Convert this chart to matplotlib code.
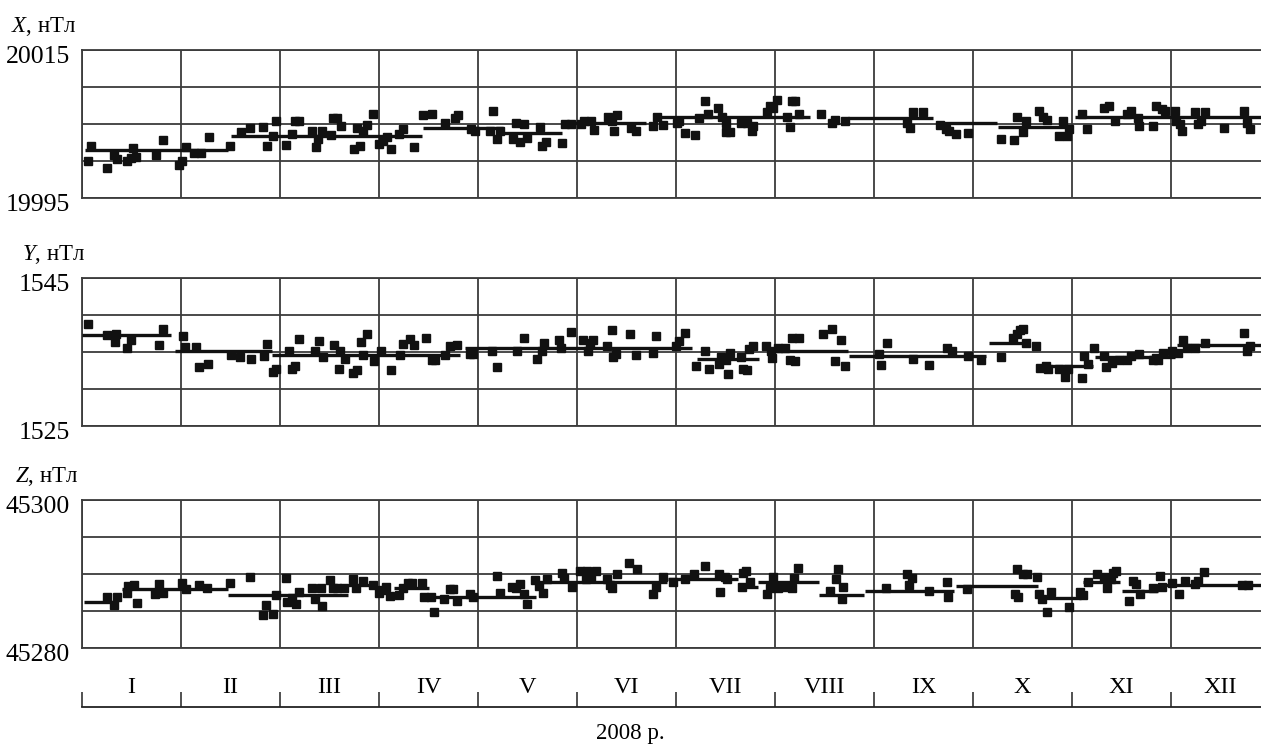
import matplotlib
matplotlib.use("Agg")
import matplotlib.pyplot as plt
import matplotlib.transforms as mtransforms

plt.rcParams['font.family'] = ['Liberation Serif', 'DejaVu Serif']
plt.rcParams['mathtext.fontset'] = 'custom'
plt.rcParams['mathtext.it'] = 'Liberation Serif:italic'
plt.rcParams['mathtext.rm'] = 'Liberation Serif'

months = ['I', 'II', 'III', 'IV', 'V', 'VI', 'VII', 'VIII', 'IX', 'X', 'XI', 'XII']
year_label = '2008 р.'

# ---- X component (time in months from 1 Jan) ----
x_t = [0.06, 0.09, 0.25, 0.32, 0.35, 0.45, 0.49, 0.52, 0.55, 0.75,
       0.82, 0.98, 1.01, 1.05, 1.13, 1.20, 1.28, 1.49, 1.61, 1.70,
       1.83, 1.87, 1.93, 1.96, 2.06, 2.12, 2.15, 2.19, 2.32, 2.36,
       2.38, 2.42, 2.52, 2.54, 2.58, 2.62, 2.75, 2.78, 2.81, 2.84,
       2.88, 2.94, 3.00, 3.04, 3.08, 3.12, 3.20, 3.24, 3.35, 3.44,
       3.54, 3.67, 3.77, 3.80, 3.93, 3.97, 4.12, 4.15, 4.19, 4.22,
       4.35, 4.38, 4.42, 4.46, 4.49, 4.63, 4.65, 4.69, 4.85, 4.88,
       4.94, 5.04, 5.07, 5.14, 5.17, 5.31, 5.35, 5.37, 5.40, 5.55,
       5.60, 5.77, 5.81, 5.87, 6.01, 6.03, 6.09, 6.19, 6.23, 6.29,
       6.32, 6.42, 6.46, 6.50, 6.51, 6.55, 6.66, 6.72, 6.77, 6.78,
       6.92, 6.95, 6.98, 7.02, 7.12, 7.15, 7.17, 7.20, 7.24, 7.46,
       7.58, 7.61, 7.71, 8.33, 8.36, 8.39, 8.49, 8.67, 8.73, 8.76,
       8.83, 8.95, 9.28, 9.41, 9.44, 9.50, 9.54, 9.67, 9.71, 9.75,
       9.87, 9.91, 9.95, 9.97, 10.10, 10.15, 10.32, 10.37, 10.43, 10.56,
       10.60, 10.67, 10.68, 10.82, 10.85, 10.91, 10.94, 11.04, 11.05, 11.09,
       11.11, 11.24, 11.27, 11.30, 11.34, 11.54, 11.74, 11.77, 11.80]
x_v = [20000.0, 20002.0, 19999.0, 20000.8, 20000.3, 20000.0, 20000.4, 20001.7, 20000.6, 20000.8,
       20002.8, 19999.5, 20000.0, 20001.9, 20001.1, 20001.1, 20003.2, 20002.0, 20003.9, 20004.4,
       20004.6, 20002.0, 20003.4, 20005.4, 20002.1, 20003.6, 20005.4, 20005.4, 20004.0, 20001.9,
       20003.0, 20004.0, 20003.5, 20005.8, 20005.8, 20004.7, 20001.6, 20004.4, 20002.0, 20004.0,
       20004.8, 20006.3, 20002.3, 20002.7, 20003.2, 20001.6, 20003.6, 20004.3, 20001.9, 20006.2,
       20006.3, 20005.2, 20005.8, 20006.2, 20004.3, 20004.1, 20004.0, 20006.8, 20003.0, 20004.0,
       20003.0, 20005.2, 20002.6, 20005.0, 20003.1, 20004.6, 20002.0, 20002.6, 20002.4, 20005.0,
       20005.0, 20005.0, 20005.4, 20005.4, 20004.2, 20006.0, 20005.4, 20004.0, 20006.2, 20004.4,
       20004.0, 20004.7, 20005.9, 20004.8, 20005.1, 20005.4, 20003.8, 20003.5, 20005.8, 20008.1,
       20006.4, 20007.2, 20006.0, 20005.2, 20003.9, 20003.9, 20005.1, 20005.2, 20004.0, 20004.7,
       20006.6, 20007.4, 20007.2, 20008.2, 20005.9, 20004.6, 20008.1, 20008.1, 20006.3, 20006.3,
       20005.2, 20005.6, 20005.4, 20005.2, 20004.4, 20006.6, 20006.6, 20004.8, 20004.3, 20004.0,
       20003.6, 20003.8, 20003.0, 20002.8, 20006.0, 20003.9, 20005.4, 20006.7, 20005.9, 20005.5,
       20003.4, 20005.4, 20003.4, 20004.3, 20006.4, 20004.3, 20007.1, 20007.4, 20005.4, 20006.3,
       20006.8, 20005.8, 20004.7, 20004.7, 20007.4, 20007.0, 20006.7, 20006.7, 20005.4, 20005.0,
       20004.0, 20006.6, 20005.0, 20005.4, 20006.6, 20004.4, 20006.8, 20005.1, 20004.3]
x_seg_start = [0.03, 1.50, 3.44, 4.25, 4.87, 5.80, 7.74, 8.64, 9.25, 10.03]
x_seg_end = [1.47, 3.43, 4.25, 4.85, 5.70, 7.35, 8.60, 9.24, 9.96, 11.95]
x_seg_val = [20001.5, 20003.4, 20004.4, 20003.8, 20005.1, 20005.9, 20005.8, 20005.1, 20004.6, 20005.9]

# ---- Y component ----
y_t = [0.06, 0.25, 0.33, 0.34, 0.45, 0.49, 0.78, 0.82, 1.02, 1.04,
       1.15, 1.18, 1.27, 1.50, 1.60, 1.71, 1.84, 1.87, 1.93, 1.96,
       2.09, 2.12, 2.15, 2.19, 2.35, 2.39, 2.43, 2.55, 2.60, 2.61,
       2.66, 2.74, 2.78, 2.82, 2.84, 2.88, 2.95, 3.02, 3.12, 3.21,
       3.24, 3.31, 3.35, 3.47, 3.54, 3.57, 3.67, 3.72, 3.79, 3.92,
       3.95, 4.14, 4.19, 4.39, 4.46, 4.60, 4.65, 4.67, 4.82, 4.84,
       4.94, 5.06, 5.11, 5.13, 5.16, 5.30, 5.35, 5.36, 5.39, 5.54,
       5.60, 5.77, 5.80, 6.00, 6.03, 6.09, 6.20, 6.29, 6.33, 6.43,
       6.45, 6.50, 6.53, 6.55, 6.66, 6.68, 6.72, 6.74, 6.78, 6.91,
       6.96, 6.97, 7.03, 7.10, 7.15, 7.17, 7.20, 7.24, 7.48, 7.58,
       7.61, 7.67, 7.71, 8.05, 8.07, 8.13, 8.39, 8.56, 8.74, 8.79,
       8.95, 9.08, 9.28, 9.40, 9.44, 9.47, 9.50, 9.54, 9.64, 9.68,
       9.74, 9.76, 9.87, 9.93, 9.96, 10.10, 10.12, 10.16, 10.22, 10.32,
       10.34, 10.40, 10.47, 10.56, 10.60, 10.68, 10.82, 10.85, 10.87, 10.92,
       11.01, 11.07, 11.12, 11.16, 11.24, 11.34, 11.74, 11.77, 11.80]
y_v = [1538.8, 1537.3, 1536.4, 1537.4, 1535.5, 1536.6, 1535.9, 1538.1, 1537.2, 1535.7,
       1535.7, 1533.0, 1533.4, 1534.6, 1534.3, 1534.1, 1534.5, 1536.1, 1532.3, 1532.7,
       1535.1, 1532.7, 1533.1, 1536.8, 1535.1, 1536.5, 1534.3, 1535.9, 1532.7, 1535.1,
       1534.1, 1532.2, 1532.6, 1536.4, 1534.6, 1537.4, 1533.8, 1535.1, 1532.6, 1534.6,
       1536.1, 1536.8, 1535.9, 1536.9, 1533.9, 1533.9, 1534.6, 1535.8, 1535.9, 1534.7,
       1534.7, 1535.1, 1533.0, 1535.1, 1536.9, 1534.1, 1535.1, 1536.2, 1536.6, 1535.5,
       1537.7, 1536.6, 1535.1, 1536.2, 1536.6, 1535.8, 1538.0, 1534.3, 1534.7, 1537.4,
       1534.6, 1534.9, 1537.2, 1535.8, 1536.5, 1537.6, 1533.1, 1535.1, 1532.7, 1533.4,
       1534.3, 1533.9, 1532.0, 1534.9, 1534.3, 1532.7, 1532.6, 1535.4, 1535.8, 1535.8,
       1535.1, 1534.2, 1535.5, 1535.5, 1533.9, 1536.9, 1533.8, 1536.9, 1537.4, 1538.1,
       1533.8, 1536.6, 1533.1, 1534.7, 1533.2, 1536.2, 1534.1, 1533.2, 1535.5, 1535.1,
       1534.5, 1533.9, 1534.3, 1536.9, 1537.4, 1538.0, 1538.1, 1536.2, 1535.8, 1532.8,
       1533.1, 1532.7, 1532.7, 1531.6, 1532.7, 1531.5, 1534.5, 1533.4, 1535.5, 1534.5,
       1533.0, 1533.5, 1533.9, 1533.9, 1534.5, 1534.7, 1533.9, 1534.2, 1533.9, 1534.9,
       1535.1, 1534.9, 1536.6, 1535.5, 1535.5, 1536.2, 1537.6, 1535.1, 1535.8]
y_seg_start = [0.00, 0.94, 1.92, 3.87, 6.21, 6.97, 7.75, 9.16, 9.71, 10.23, 11.06]
y_seg_end = [0.90, 1.92, 3.82, 6.16, 6.84, 7.74, 9.13, 9.58, 10.21, 11.04, 11.95]
y_seg_val = [1537.3, 1535.1, 1534.6, 1535.5, 1534.1, 1535.1, 1534.5, 1536.2, 1533.1, 1534.3, 1536.0]

# ---- Z component ----
z_t = [0.25, 0.32, 0.35, 0.45, 0.46, 0.53, 0.56, 0.74, 0.78, 0.82,
       1.01, 1.05, 1.18, 1.26, 1.49, 1.70, 1.83, 1.86, 1.93, 1.96,
       2.06, 2.07, 2.12, 2.16, 2.19, 2.32, 2.35, 2.41, 2.42, 2.51,
       2.54, 2.58, 2.65, 2.74, 2.77, 2.84, 2.94, 3.00, 3.03, 3.07,
       3.11, 3.20, 3.24, 3.29, 3.33, 3.43, 3.45, 3.53, 3.56, 3.66,
       3.72, 3.75, 3.79, 3.92, 3.95, 4.19, 4.22, 4.34, 4.38, 4.42,
       4.46, 4.49, 4.58, 4.62, 4.66, 4.70, 4.85, 4.87, 4.95, 5.03,
       5.09, 5.10, 5.14, 5.19, 5.30, 5.33, 5.35, 5.40, 5.53, 5.61,
       5.77, 5.80, 5.87, 5.97, 6.09, 6.18, 6.29, 6.43, 6.44, 6.49,
       6.52, 6.67, 6.68, 6.71, 6.75, 6.92, 6.95, 6.98, 7.03, 7.10,
       7.17, 7.19, 7.23, 7.56, 7.62, 7.64, 7.68, 7.69, 8.12, 8.33,
       8.35, 8.38, 8.56, 8.74, 8.75, 8.94, 9.42, 9.44, 9.45, 9.50,
       9.55, 9.65, 9.67, 9.70, 9.75, 9.79, 9.97, 10.08, 10.11, 10.16,
       10.25, 10.32, 10.35, 10.39, 10.41, 10.44, 10.58, 10.62, 10.65, 10.69,
       10.82, 10.89, 10.91, 11.01, 11.08, 11.14, 11.24, 11.27, 11.33, 11.72,
       11.78]
z_v = [45286.9, 45285.8, 45286.9, 45287.4, 45288.4, 45288.5, 45286.1, 45287.3, 45288.7, 45287.4,
       45288.8, 45288.0, 45288.5, 45288.1, 45288.8, 45289.6, 45284.4, 45285.8, 45284.6, 45287.2,
       45289.5, 45286.2, 45286.8, 45286.0, 45287.6, 45288.1, 45286.6, 45288.1, 45285.7, 45289.2,
       45288.1, 45288.1, 45288.1, 45289.3, 45288.1, 45289.1, 45288.5, 45287.4, 45287.9, 45288.3,
       45287.0, 45287.2, 45288.1, 45288.8, 45288.8, 45288.8, 45286.9, 45286.9, 45284.9, 45286.6,
       45288.0, 45288.0, 45286.4, 45287.3, 45286.9, 45289.7, 45287.4, 45288.3, 45288.1, 45288.7,
       45287.3, 45286.0, 45289.2, 45288.4, 45287.4, 45289.3, 45290.1, 45289.5, 45288.3, 45290.4,
       45289.3, 45290.4, 45289.5, 45290.4, 45289.3, 45288.5, 45288.1, 45290.0, 45291.5, 45290.7,
       45287.3, 45288.3, 45289.6, 45288.9, 45289.3, 45290.0, 45291.1, 45290.0, 45287.6, 45289.6,
       45289.3, 45288.3, 45290.1, 45290.4, 45288.9, 45287.3, 45288.1, 45289.6, 45288.1, 45288.3,
       45288.1, 45289.5, 45290.8, 45287.7, 45289.3, 45290.7, 45286.6, 45288.3, 45288.1, 45290.0,
       45288.5, 45289.5, 45287.7, 45288.9, 45286.9, 45288.0, 45287.3, 45290.7, 45286.9, 45290.0,
       45290.0, 45289.6, 45287.3, 45286.6, 45284.9, 45287.6, 45285.6, 45287.6, 45287.2, 45288.9,
       45290.0, 45289.6, 45288.1, 45289.3, 45290.1, 45290.4, 45286.4, 45289.1, 45288.7, 45287.3,
       45288.1, 45289.7, 45288.3, 45288.8, 45287.3, 45289.1, 45288.7, 45289.1, 45290.3, 45288.5,
       45288.5]
z_seg_start = [0.02, 0.40, 1.47, 2.69, 3.15, 3.50, 4.60, 5.92, 6.63, 6.83, 7.44, 7.91, 8.83, 9.68, 10.11, 10.50, 10.87]
z_seg_end = [0.30, 1.47, 2.69, 2.98, 3.50, 4.59, 5.91, 6.63, 6.83, 7.44, 7.90, 8.81, 9.66, 10.09, 10.48, 10.87, 11.95]
z_seg_val = [45286.2, 45288.0, 45287.2, 45288.5, 45288.1, 45286.9, 45288.9, 45289.3, 45288.3, 45288.9,
             45287.2, 45287.7, 45288.4, 45286.8, 45288.9, 45287.7, 45288.5]

panels = [
    ('$\\mathit{X}$, нТл', 19995, 20015, x_t, x_v, x_seg_start, x_seg_end, x_seg_val),
    ('$\\mathit{Y}$, нТл', 1525, 1545, y_t, y_v, y_seg_start, y_seg_end, y_seg_val),
    ('$\\mathit{Z}$, нТл', 45280, 45300, z_t, z_v, z_seg_start, z_seg_end, z_seg_val),
]
label_left = [11, 22, 15]   # px from left edge of the figure

W, H = 1261, 746
fig = plt.figure(figsize=(W / 100, H / 100), dpi=100)

left = 82 / W
width = 12 * 99 / W
tops = [50, 278, 500]
ph = 148

for (label, lo, hi, t, v, s0, s1, sv), top, lx in zip(panels, tops, label_left):
    ax = fig.add_axes([left, 1 - (top + ph) / H, width, ph / H])
    ax.set_xlim(0, 12)
    ax.set_ylim(lo, hi)
    ax.set_xticks(range(13))
    ax.set_yticks(range(lo, hi + 1, 5))
    ax.tick_params(length=0, labelbottom=False, labelleft=False)
    ax.grid(True, color='#3c3c3c', lw=1.3)
    ax.set_axisbelow(True)
    for sp in ax.spines.values():
        sp.set_color('#3c3c3c')
        sp.set_linewidth(1.3)

    ax.hlines(sv, s0, s1, color='#111111', lw=2.4, zorder=3)
    ax.plot(t, v, ls='none', marker='s', ms=5.6, color='#111111', zorder=4)

    trans = mtransforms.blended_transform_factory(ax.transAxes, ax.transData)
    off = mtransforms.offset_copy(trans, fig=fig, x=-12, y=4, units='dots')
    ax.text(0, hi, str(hi), transform=off, ha='right', va='top', fontsize=18.5)
    ax.text(0, lo, str(lo), transform=off, ha='right', va='top', fontsize=18.5)
    ax.text((lx - 82) / 1188, 1 + 18 / ph, label, transform=ax.transAxes,
            ha='left', va='baseline', fontsize=16.5)

# month axis
axm = fig.add_axes([left, 1 - 707 / H, width, 0.05])
axm.set_xlim(0, 12)
axm.set_ylim(0, 1)
for sp in ['left', 'right', 'top']:
    axm.spines[sp].set_visible(False)
axm.spines['bottom'].set_color('#222222')
axm.spines['bottom'].set_linewidth(1.3)
axm.set_yticks([])
axm.set_xticks(range(13))
axm.set_xticklabels([])
axm.set_xticks([0], minor=True)
axm.tick_params(axis='x', which='major', direction='in', length=11, width=1.2, color='#333333')
axm.tick_params(axis='x', which='minor', direction='in', length=14, width=1.2, color='#333333')
for i, m in enumerate(months):
    axm.text(i + 0.5, 0.24, m, ha='center', va='bottom', fontsize=17.5)

fig.text(630 / W, 1 - 733 / H, year_label, ha='center', va='center', fontsize=16.5)

fig.savefig('out.png', dpi=100)
